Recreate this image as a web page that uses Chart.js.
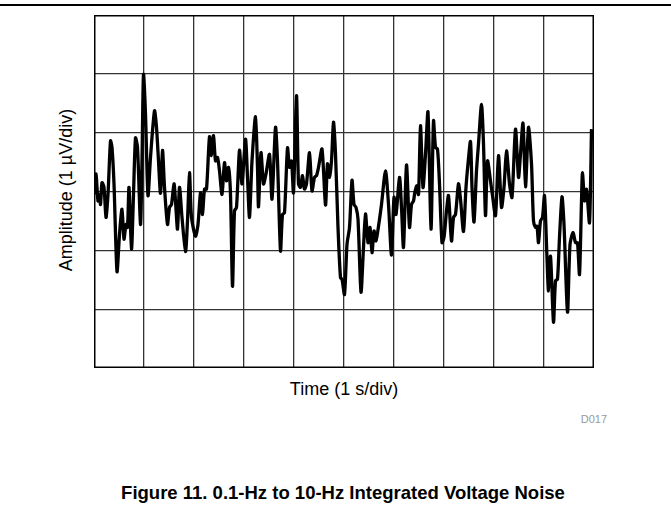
<!DOCTYPE html>
<html>
<head>
<meta charset="utf-8">
<script src="https://cdn.jsdelivr.net/npm/chart.js@4.4.1/dist/chart.umd.min.js"></script>
<style>
  html, body { margin: 0; padding: 0; background: #fff; }
  body { width: 671px; height: 514px; position: relative; overflow: hidden; font-family: "Liberation Sans", Arial, sans-serif; }
  #topline { position: absolute; left: 0; top: 4px; width: 671px; height: 2px; background: #000; }
  #plot { position: absolute; left: 94px; top: 15px; width: 500px; height: 353px; }
  .lbl { position: absolute; color: #000; white-space: nowrap; }
  #ylab { left: 66px; top: 190px; font-size: 18px; transform: translate(-50%, -50%) rotate(-90deg); }
  #xlab { left: 344px; top: 389px; font-size: 18px; transform: translate(-50%, -50%); }
  #code { right: 64px; top: 413px; font-size: 11px; color: #999; }
  #caption { left: 343px; top: 493px; font-size: 18.5px; font-weight: bold; transform: translate(-50%, -50%); }
</style>
</head>
<body>
<div id="topline"></div>
<div id="plot"><canvas id="noise-chart"></canvas></div>
<div class="lbl" id="ylab">Amplitude (1 µV/div)</div>
<div class="lbl" id="xlab">Time (1 s/div)</div>
<div class="lbl" id="code">D017</div>
<div class="lbl" id="caption">Figure 11. 0.1-Hz to 10-Hz Integrated Voltage Noise</div>
<script>
// --- ข้อมูลที่อ่านจากภาพ: เวลา (วินาที) และแอมพลิจูด (div) ---
const TIME_S = [
    0.00, 0.04, 0.08, 0.11, 0.13, 0.16, 0.20, 0.24, 0.28, 0.33, 0.36, 0.40, 0.46, 0.51, 0.56, 0.60,
    0.64, 0.67, 0.70, 0.75, 0.79, 0.83, 0.87, 0.93, 0.96, 0.99, 1.03, 1.08, 1.13, 1.21, 1.25, 1.29,
    1.33, 1.37, 1.41, 1.47, 1.51, 1.55, 1.60, 1.63, 1.67, 1.71, 1.76, 1.83, 1.87, 1.91, 1.95,
    2.03, 2.08, 2.13, 2.17, 2.21, 2.25, 2.31, 2.35, 2.39, 2.43, 2.47, 2.51, 2.56, 2.61, 2.65, 2.69,
    2.73, 2.77, 2.81, 2.85, 2.91, 2.96, 3.03, 3.07, 3.11, 3.16, 3.23, 3.27, 3.29, 3.34, 3.39, 3.44,
    3.51, 3.56, 3.63, 3.67, 3.73, 3.77, 3.81, 3.87, 3.91, 3.95, 3.99,
    4.05, 4.09, 4.13, 4.17, 4.21, 4.25, 4.31, 4.36, 4.41, 4.45, 4.49, 4.56, 4.63, 4.67, 4.71, 4.75,
    4.79, 4.83, 4.88, 4.93, 4.96, 5.01, 5.06, 5.11, 5.16, 5.20, 5.24, 5.28, 5.34, 5.39, 5.43, 5.48,
    5.52, 5.56, 5.60, 5.64, 5.69, 5.75, 5.83, 5.89, 5.95,
    6.00, 6.04, 6.11, 6.15, 6.19, 6.25, 6.31, 6.35, 6.39, 6.41, 6.45, 6.49, 6.53, 6.58, 6.63, 6.68,
    6.74, 6.79, 6.83, 6.87, 6.91, 6.96, 7.00, 7.05, 7.09, 7.15, 7.19, 7.23, 7.29, 7.33, 7.39, 7.44,
    7.48, 7.53, 7.56, 7.60, 7.65, 7.69, 7.75, 7.79, 7.83, 7.87, 7.93, 7.97,
    8.03, 8.09, 8.15, 8.20, 8.25, 8.31, 8.36, 8.43, 8.49, 8.53, 8.58, 8.63, 8.69, 8.75, 8.79, 8.83,
    8.86, 8.89, 8.93, 8.97, 9.01, 9.06, 9.09, 9.13, 9.19, 9.23, 9.27, 9.31, 9.36, 9.40, 9.47, 9.52,
    9.58, 9.63, 9.67, 9.71, 9.75, 9.77, 9.81, 9.85, 9.91, 9.95
];
const AMPLITUDE_DIV = [
    -0.05, 0.30, -0.16, -0.05, -0.22, 0.15, 0.07, -0.44, -0.05, 0.86, 0.75, 0.13, -1.36, -0.73, -0.30, -0.81,
    -0.56, -0.61, 0.07, -0.98, -0.05, 0.91, 0.75, -0.56, 0.52, 1.99, 1.32, -0.07, 0.58, 1.37, 1.09, 0.52,
    -0.03, 0.70, 0.07, -0.56, -0.27, -0.22, 0.13, -0.16, -0.64, 0.07, -0.44, -1.02, -0.50, 0.32, -0.44,
    -0.76, -0.56, -0.02, -0.39, 0.04, 0.04, 0.93, 0.61, 0.95, 0.52, 0.58, 0.35, -0.05, 0.49, 0.18, 0.41,
    -0.05, -1.61, -0.33, -0.27, 0.70, 0.13, 0.89, 0.24, -0.44, 0.52, 1.27, 0.41, -0.26, 0.66, 0.13, 0.30,
    0.63, -0.13, 1.09, 0.52, -1.01, -0.39, -0.36, 0.74, 0.41, 0.52, -0.02,
    1.63, 0.13, 0.07, 0.27, 0.04, 0.13, 0.66, 0.01, 0.24, 0.27, 0.41, 0.72, -0.23, 0.47, 0.24, 0.52,
    1.18, 0.64, -0.61, -1.47, -1.49, -1.75, -0.90, -0.61, 0.19, -0.22, -0.27, -0.47, -1.71, -0.95, -0.38, -0.87,
    -0.61, -1.04, -0.67, -0.84, -0.59, -0.22, 0.35, -0.22, -1.08,
    -0.10, -0.39, 0.24, -0.27, -0.95, 0.45, -0.61, -0.22, -0.16, -0.05, 0.10, -0.05, 1.12, 0.07, 0.64, 1.35,
    -0.64, 1.20, 0.75, 0.72, 0.13, -0.87, -0.78, -0.33, -0.07, -0.84, -0.44, -0.39, 0.13, -0.13, -0.68, 0.07,
    0.47, 0.85, 0.07, -0.52, 0.35, 0.81, 1.48, 0.81, -0.41, 0.52, 0.18, -0.07,
    -0.41, 0.61, -0.27, 0.07, 0.69, 0.13, -0.10, 1.06, 0.24, 0.64, 1.16, 0.08, 1.09, 0.47, -0.50, -0.61,
    -0.59, -0.87, -0.50, -0.44, -0.07, -1.13, -1.69, -1.10, -2.22, -1.52, -1.49, -0.78, -0.09, -0.56, -2.05, -0.90,
    -0.70, -0.87, -0.87, -1.41, -0.16, 0.32, -0.16, 0.04, -0.53, 1.06
];

// --- ช่วงแกน (10 div เวลา, 6 div แอมพลิจูด) ---
const X_MIN = 0, X_MAX = 10;
const Y_MIN = -3, Y_MAX = 3;

// กรอบหนารอบพื้นที่กราฟ
const frameBorder = {
    id: 'frameBorder',
    afterDraw(chart) {
        const { ctx, chartArea: a } = chart;
        ctx.save();
        ctx.strokeStyle = '#000';
        ctx.lineWidth = 3;
        ctx.strokeRect(a.left, a.top, a.right - a.left, a.bottom - a.top);
        ctx.restore();
    }
};

const points = TIME_S.map((t, i) => ({ x: t, y: AMPLITUDE_DIV[i] }));

new Chart(document.getElementById('noise-chart'), {
    type: 'line',
    data: {
        datasets: [{
            data: points,
            borderColor: '#000',
            borderWidth: 3.3,
            pointRadius: 0,
            tension: 0.25,
            fill: false
        }]
    },
    options: {
        responsive: true,
        maintainAspectRatio: false,
        animation: false,
        layout: { padding: 0 },
        scales: {
            x: {
                type: 'linear', min: X_MIN, max: X_MAX,
                ticks: { display: false, stepSize: 1 },
                grid: { color: '#333', lineWidth: 1.3, drawTicks: false },
                border: { display: false }
            },
            y: {
                type: 'linear', min: Y_MIN, max: Y_MAX,
                ticks: { display: false, stepSize: 1 },
                grid: { color: '#333', lineWidth: 1.3, drawTicks: false },
                border: { display: false }
            }
        },
        plugins: {
            legend: { display: false },
            tooltip: { enabled: false }
        }
    },
    plugins: [frameBorder]
});
</script>
</body>
</html>
